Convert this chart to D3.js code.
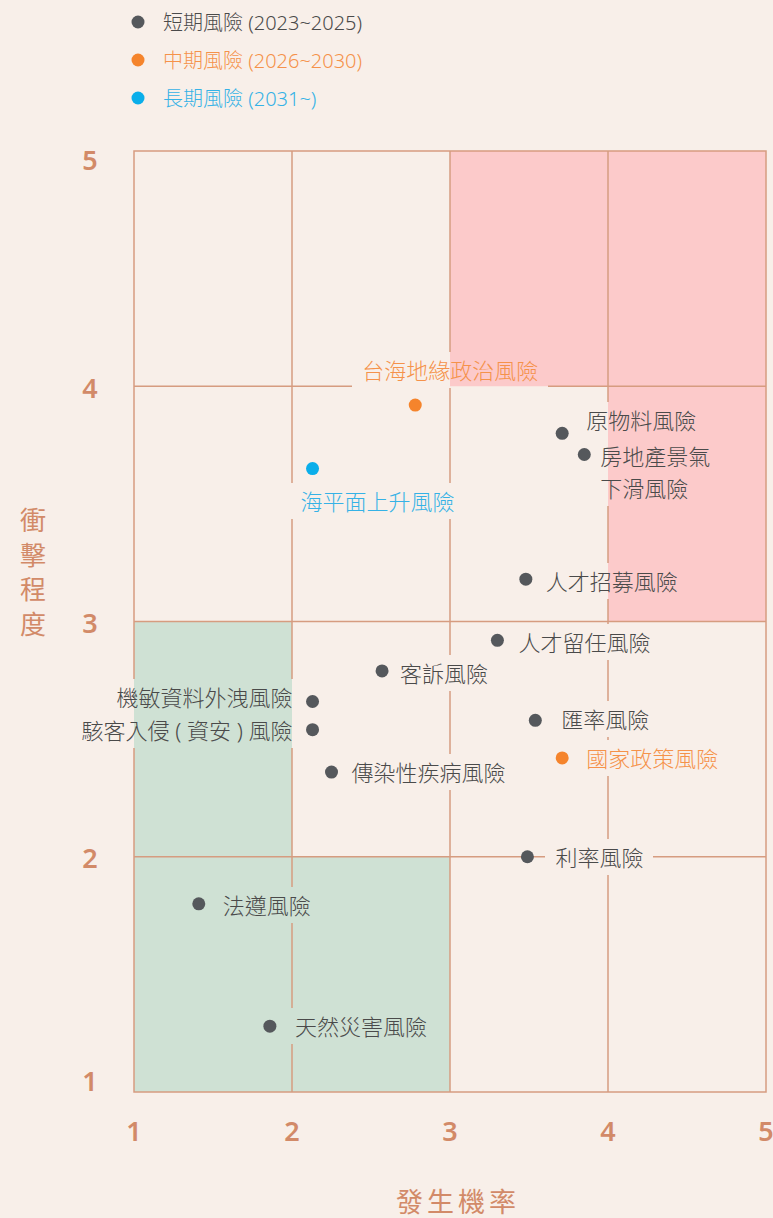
<!DOCTYPE html>
<html>
<head>
<meta charset="utf-8">
<script src="https://cdn.jsdelivr.net/npm/d3@7"></script>
<style>
  html, body { margin: 0; padding: 0; background: #f8efe9; }
  svg { display: block; }
  text { font-family: "Noto Sans", "Noto Sans CJK TC", sans-serif; }
</style>
</head>
<body>
<div id="chart"></div>
<script>
// 風險矩陣：X = 發生機率，Y = 衝擊程度

const GROUPS = ["短期風險 (2023~2025)", "中期風險 (2026~2030)", "長期風險 (2031~)"];
const GROUP_DOT = ["#55585c", "#f5842c", "#0aaeea"];
const GROUP_TEXT = ["#4a4a4a", "#f5924a", "#35b2e6"];

const RISK_NAMES = [
  "原物料風險", "房地產景氣下滑風險", "人才招募風險", "人才留任風險", "客訴風險",
  "機敏資料外洩風險", "駭客入侵 ( 資安 ) 風險", "匯率風險", "國家政策風險",
  "傳染性疾病風險", "利率風險", "法遵風險", "天然災害風險",
  "台海地緣政治風險", "海平面上升風險"
];
const PROBABILITY = [3.71, 3.85, 3.48, 3.30, 2.57, 2.13, 2.13, 3.54, 3.71, 2.25, 3.49, 1.41, 1.86, 2.78, 2.13];
const IMPACT =      [3.80, 3.71, 3.18, 2.92, 2.79, 2.66, 2.54, 2.58, 2.42, 2.36, 2.00, 1.80, 1.28, 3.92, 3.65];
const TERM =        [0, 0, 0, 0, 0, 0, 0, 0, 1, 0, 0, 0, 0, 1, 2];

const TICKS = [1, 2, 3, 4, 5];

// 高風險（紅）與低風險（綠）區塊
const RED_ZONES = [
  { x0: 3, x1: 5, y0: 4, y1: 5 },
  { x0: 4, x1: 5, y0: 3, y1: 4 }
];
const GREEN_ZONES = [
  { x0: 1, x1: 2, y0: 2, y1: 3 },
  { x0: 1, x1: 3, y0: 1, y1: 2 }
];

// 標籤位置（相對圓點的位移）
const LABEL_LAYOUT = [
  { dx: 24, dy: -13, anchor: "start" },
  { dx: 16, dy: 2, anchor: "start", lines: ["房地產景氣", "下滑風險"] },
  { dx: 20, dy: 2, anchor: "start" },
  { dx: 21, dy: 2, anchor: "start" },
  { dx: 18, dy: 2, anchor: "start" },
  { dx: -20, dy: -4, anchor: "end" },
  { dx: -20, dy: 0, anchor: "end" },
  { dx: 26, dy: -1, anchor: "start" },
  { dx: 24, dy: 0, anchor: "start" },
  { dx: 20, dy: 0, anchor: "start" },
  { dx: 28, dy: 0, anchor: "start" },
  { dx: 24, dy: 1, anchor: "start" },
  { dx: 25, dy: 0, anchor: "start" },
  { dx: 35, dy: -35, anchor: "middle" },
  { dx: 65, dy: 32, anchor: "middle" }
];

const W = 773, H = 1218;
const PLOT = { left: 134, right: 766, top: 151, bottom: 1092 };
const BG = "#f8efe9";
const RED = "#fccaca";
const GREEN = "#cfe1d4";
const GRID = "#d69c80";
const AXIS_TEXT = "#d28a68";

const x = d3.scaleLinear().domain([1, 5]).range([PLOT.left, PLOT.right]);
const y = d3.scaleLinear().domain([1, 5]).range([PLOT.bottom, PLOT.top]);

const svg = d3.select("#chart").append("svg")
  .attr("width", W).attr("height", H)
  .attr("viewBox", `0 0 ${W} ${H}`);

svg.append("rect").attr("width", W).attr("height", H).attr("fill", BG);

function drawFills(g) {
  g.selectAll(null).data(RED_ZONES).enter().append("rect")
    .attr("x", d => x(d.x0)).attr("y", d => y(d.y1))
    .attr("width", d => x(d.x1) - x(d.x0)).attr("height", d => y(d.y0) - y(d.y1))
    .attr("fill", RED);
  g.selectAll(null).data(GREEN_ZONES).enter().append("rect")
    .attr("x", d => x(d.x0)).attr("y", d => y(d.y1))
    .attr("width", d => x(d.x1) - x(d.x0)).attr("height", d => y(d.y0) - y(d.y1))
    .attr("fill", GREEN);
}

drawFills(svg.append("g"));

// 格線與外框
const grid = svg.append("g").attr("stroke", GRID).attr("stroke-width", 1.5);
grid.selectAll(null).data(TICKS.slice(1, -1)).enter().append("line")
  .attr("x1", d => x(d)).attr("x2", d => x(d))
  .attr("y1", PLOT.top).attr("y2", PLOT.bottom);
grid.selectAll(null).data(TICKS.slice(1, -1)).enter().append("line")
  .attr("y1", d => y(d)).attr("y2", d => y(d))
  .attr("x1", PLOT.left).attr("x2", PLOT.right);
grid.append("rect")
  .attr("x", PLOT.left).attr("y", PLOT.top)
  .attr("width", PLOT.right - PLOT.left).attr("height", PLOT.bottom - PLOT.top)
  .attr("fill", "none");

// 標籤遮罩：只蓋掉格線，底色維持原區塊
const clip = svg.append("defs").append("clipPath").attr("id", "label-clip");
const masked = svg.append("g").attr("clip-path", "url(#label-clip)");
masked.append("rect").attr("width", W).attr("height", H).attr("fill", BG);
drawFills(masked);

const points = RISK_NAMES.map((name, i) => ({
  name, px: PROBABILITY[i], py: IMPACT[i], term: TERM[i], layout: LABEL_LAYOUT[i]
}));

// 圓點
svg.append("g").selectAll("circle").data(points).enter().append("circle")
  .attr("cx", d => x(d.px)).attr("cy", d => y(d.py))
  .attr("r", 6.5)
  .attr("fill", d => GROUP_DOT[d.term]);

// 文字標籤
const labels = svg.append("g").selectAll("text").data(points).enter().append("text")
  .attr("x", d => x(d.px) + d.layout.dx)
  .attr("y", d => y(d.py) + d.layout.dy)
  .attr("text-anchor", d => d.layout.anchor)
  .attr("dominant-baseline", "central")
  .attr("font-size", 22)
  .attr("font-weight", 300)
  .attr("fill", d => GROUP_TEXT[d.term])
  .each(function (d) {
    const t = d3.select(this);
    if (d.layout.lines) {
      d.layout.lines.forEach((ln, k) => {
        t.append("tspan")
          .attr("x", x(d.px) + d.layout.dx)
          .attr("dy", k === 0 ? 0 : 32)
          .text(ln);
      });
    } else {
      t.text(d.name);
    }
  });

labels.each(function () {
  const b = this.getBBox();
  clip.append("rect")
    .attr("x", Math.round(b.x - 10)).attr("y", Math.round(b.y - 3))
    .attr("width", Math.round(b.width + 20)).attr("height", Math.round(b.height + 6));
});

// 軸刻度
svg.append("g").selectAll("text").data(TICKS).enter().append("text")
  .attr("x", 90)
  .attr("y", d => y(d) + (d === 5 ? 8 : d === 1 ? -12 : 1))
  .attr("text-anchor", "middle")
  .attr("dominant-baseline", "central")
  .attr("font-size", 27)
  .attr("font-weight", 600)
  .attr("fill", AXIS_TEXT)
  .text(d => d);

svg.append("g").selectAll("text").data(TICKS).enter().append("text")
  .attr("x", d => x(d))
  .attr("y", 1130)
  .attr("text-anchor", "middle")
  .attr("dominant-baseline", "central")
  .attr("font-size", 27)
  .attr("font-weight", 600)
  .attr("fill", AXIS_TEXT)
  .text(d => d);

// 軸標題
const yTitle = svg.append("text")
  .attr("x", 33).attr("y", 520)
  .attr("text-anchor", "middle")
  .attr("dominant-baseline", "central")
  .attr("font-size", 26)
  .attr("fill", AXIS_TEXT);
"衝擊程度".split("").forEach((ch, k) => {
  yTitle.append("tspan").attr("x", 33).attr("dy", k === 0 ? 0 : 34.5).text(ch);
});

svg.append("text")
  .attr("x", 458).attr("y", 1201)
  .attr("text-anchor", "middle")
  .attr("dominant-baseline", "central")
  .attr("font-size", 27)
  .attr("letter-spacing", 4)
  .attr("fill", AXIS_TEXT)
  .text("發生機率");

// 圖例
const legend = svg.append("g").selectAll("g").data(GROUPS).enter().append("g")
  .attr("transform", (d, i) => `translate(0,${22 + i * 38})`);
legend.append("circle").attr("cx", 138).attr("cy", 0).attr("r", 6.5)
  .attr("fill", (d, i) => GROUP_DOT[i]);
legend.append("text").attr("x", 163).attr("y", 0)
  .attr("dominant-baseline", "central")
  .attr("font-size", 20)
  .attr("font-weight", 300)
  .attr("fill", (d, i) => GROUP_TEXT[i])
  .text(d => d);
</script>
</body>
</html>
